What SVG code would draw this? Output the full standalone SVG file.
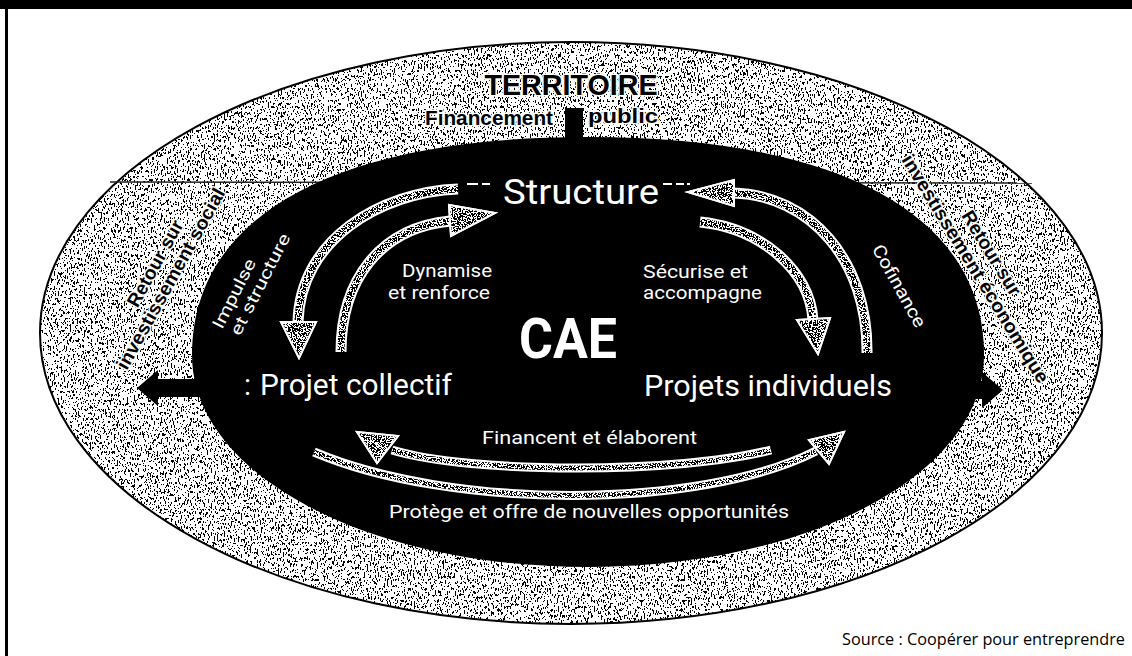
<svg xmlns="http://www.w3.org/2000/svg" width="1132" height="656" viewBox="0 0 1132 656">
<defs>
  <filter id="stip" filterUnits="userSpaceOnUse" x="0" y="0" width="1132" height="656" color-interpolation-filters="sRGB">
    <feTurbulence type="fractalNoise" baseFrequency="0.7 0.33" numOctaves="2" seed="7" result="n"/>
    <feColorMatrix in="n" type="matrix" values="0 0 0 0 0  0 0 0 0 0  0 0 0 0 0  1 0 0 0 0" result="r"/>
    <feComponentTransfer in="r" result="t"><feFuncA type="discrete" tableValues="0 0 0 0 0 0 0 0 0 0 0 0 1 1 1 1 1 1 1 1"/></feComponentTransfer>
    <feComposite in="SourceGraphic" in2="t" operator="in"/>
  </filter>
  <filter id="stip2" filterUnits="userSpaceOnUse" x="0" y="0" width="1132" height="656" color-interpolation-filters="sRGB">
    <feTurbulence type="fractalNoise" baseFrequency="0.8 0.8" numOctaves="2" seed="3" result="n"/>
    <feColorMatrix in="n" type="matrix" values="0 0 0 0 0  0 0 0 0 0  0 0 0 0 0  1 0 0 0 0" result="r"/>
    <feComponentTransfer in="r" result="t"><feFuncA type="discrete" tableValues="0 0 0 0 0 0 0 0 0 0 1 1 1 1 1 1 1 1 1 1"/></feComponentTransfer>
    <feComposite in="SourceGraphic" in2="t" operator="in"/>
  </filter>
  <style>
    .wt{fill:#fff;font-family:Roboto,"Liberation Sans",sans-serif}
    .bt{fill:#000;font-family:"Liberation Sans",Arial,sans-serif;font-weight:bold;stroke:#fff;stroke-width:3;paint-order:stroke;stroke-linejoin:round}
    .sw{fill:none;stroke:#fff;stroke-width:11}
    .sp{fill:none;stroke:#000;stroke-width:7}
    .sw2{fill:none;stroke:#fff;stroke-width:9}
    .sp2{fill:none;stroke:#000;stroke-width:5}
    .hw{fill:#fff;stroke:#fff;stroke-width:2}
    .hs{fill:#000;stroke:none}
    .ho{fill:none;stroke:#fff;stroke-width:2;stroke-linejoin:miter}
  </style>
  <path id="a1" d="M458,189 C380,192 300,240 298,322"/>
  <polygon id="h1" points="281,322 316,322 299,358"/>
  <path id="a2" d="M341,352 C341,280 380,228 450,221"/>
  <polygon id="h2" points="449,205 451,236 495,213"/>
  <path id="a3" d="M700,222 C760,228 810,270 813,320"/>
  <polygon id="h3" points="797,320 830,318 818,354"/>
  <path id="a4" d="M867,353 C868,260 810,195 733,193"/>
  <polygon id="h4" points="734,180 734,206 688,192"/>
  <path id="a5" d="M771,450 C680,474 470,474 392,450"/>
  <polygon id="h5" points="357,432 398,436 377,463"/>
  <path id="a6" d="M314,452 C450,510 700,510 816,451"/>
  <polygon id="h6" points="809,440 829,464 844,432"/>
</defs>

<rect x="0" y="0" width="1132" height="656" fill="#fff"/>
<rect x="0" y="0" width="1132" height="9" fill="#000"/>
<rect x="5" y="0" width="3" height="656" fill="#000"/>

<g id="territoire">
  <ellipse cx="571" cy="333" rx="531" ry="291" fill="#fff"/>
  <ellipse cx="571" cy="333" rx="531" ry="291" fill="#000" filter="url(#stip)"/>
  <ellipse cx="571" cy="333" rx="531" ry="291" fill="none" stroke="#000" stroke-width="2"/>
  <line x1="110" y1="182" x2="1032" y2="183" stroke="#222" stroke-width="1.5"/>
  <text class="bt" x="571" y="95" font-size="30" text-anchor="middle" textLength="173" lengthAdjust="spacingAndGlyphs">TERRITOIRE</text>
  <text class="bt" x="425" y="125" font-size="21" textLength="128" lengthAdjust="spacingAndGlyphs">Financement</text>
  <text class="bt" x="588" y="123" font-size="21" textLength="70" lengthAdjust="spacingAndGlyphs">public</text>
  <g transform="translate(171,279) rotate(-61)">
    <text class="bt" x="6" y="-15" font-size="19" text-anchor="middle" textLength="96" lengthAdjust="spacingAndGlyphs">Retour sur</text>
    <text class="bt" x="0" y="6" font-size="19" text-anchor="middle" textLength="204" lengthAdjust="spacingAndGlyphs">investissement social</text>
  </g>
  <g transform="translate(975,269) rotate(58.5)">
    <text class="bt" x="-5" y="-16" font-size="19" text-anchor="middle" textLength="96" lengthAdjust="spacingAndGlyphs">Retour sur</text>
    <text class="bt" x="0" y="6" font-size="19" text-anchor="middle" textLength="264" lengthAdjust="spacingAndGlyphs">investissement économique</text>
  </g>
</g>

<g id="cae">
  <rect x="565" y="108" width="18" height="36" fill="#000"/>
  <path d="M192,355 C192,215.5 334.6,137 588,137 C841.4,137 984,215.5 984,355 C984,473.7 809.8,567 588,567 C366.2,567 192,473.7 192,355 Z" fill="#000"/>
  <polygon points="137,388 158,370 158,379 205,379 205,397 158,397 158,406" fill="#000"/>
  <polygon points="1003,390 982,372 982,381 960,381 960,399 982,399 982,408" fill="#000"/>
  <text class="wt" x="568" y="358" font-size="56" font-weight="bold" text-anchor="middle" textLength="98" lengthAdjust="spacingAndGlyphs">CAE</text>
</g>

<g id="structure">
  <text class="wt" x="503" y="204" font-size="35" textLength="156" lengthAdjust="spacingAndGlyphs">Structure</text>
  <path d="M467,184 H478 M482,184 H490 M663,184 H672 M676,184 H684 M687,184 H690" stroke="#fff" stroke-width="2"/>
</g>

<g id="projet-collectif">
  <text class="wt" x="244" y="395" font-size="29">:</text>
  <text class="wt" x="260" y="395" font-size="29" textLength="192" lengthAdjust="spacingAndGlyphs">Projet collectif</text>
</g>

<g id="projets-individuels">
  <text class="wt" x="644" y="396" font-size="29" textLength="248" lengthAdjust="spacingAndGlyphs">Projets individuels</text>
</g>

<g id="connectors">
  <g id="c-impulse">
    <use href="#a1" class="sw"/><use href="#a1" class="sp" filter="url(#stip2)"/>
    <use href="#h1" class="hw"/><use href="#h1" class="hs" filter="url(#stip2)"/><use href="#h1" class="ho"/>
    <g transform="translate(222,330) rotate(-63)">
      <text class="wt" x="0" y="0" font-size="17" textLength="76" lengthAdjust="spacingAndGlyphs">Impulse</text>
      <text class="wt" x="2" y="19" font-size="17" textLength="112" lengthAdjust="spacingAndGlyphs">et structure</text>
    </g>
  </g>
  <g id="c-dynamise">
    <use href="#a2" class="sw"/><use href="#a2" class="sp" filter="url(#stip2)"/>
    <use href="#h2" class="hw"/><use href="#h2" class="hs" filter="url(#stip2)"/><use href="#h2" class="ho"/>
    <text class="wt" x="492" y="277" font-size="18" text-anchor="end" textLength="90" lengthAdjust="spacingAndGlyphs">Dynamise</text>
    <text class="wt" x="490" y="299" font-size="18" text-anchor="end" textLength="102" lengthAdjust="spacingAndGlyphs">et renforce</text>
  </g>
  <g id="c-securise">
    <use href="#a3" class="sw"/><use href="#a3" class="sp" filter="url(#stip2)"/>
    <use href="#h3" class="hw"/><use href="#h3" class="hs" filter="url(#stip2)"/><use href="#h3" class="ho"/>
    <text class="wt" x="643" y="278" font-size="18" textLength="105" lengthAdjust="spacingAndGlyphs">Sécurise et</text>
    <text class="wt" x="643" y="299" font-size="18" textLength="119" lengthAdjust="spacingAndGlyphs">accompagne</text>
  </g>
  <g id="c-cofinance">
    <use href="#a4" class="sw"/><use href="#a4" class="sp" filter="url(#stip2)"/>
    <use href="#h4" class="hw"/><use href="#h4" class="hs" filter="url(#stip2)"/><use href="#h4" class="ho"/>
    <g transform="translate(899,286) rotate(61)">
      <text class="wt" x="0" y="6" font-size="18" text-anchor="middle" textLength="92" lengthAdjust="spacingAndGlyphs">Cofinance</text>
    </g>
  </g>
  <g id="c-financent">
    <use href="#a5" class="sw2"/><use href="#a5" class="sp2" filter="url(#stip2)"/>
    <use href="#h5" class="hw"/><use href="#h5" class="hs" filter="url(#stip2)"/><use href="#h5" class="ho"/>
    <text class="wt" x="482" y="444" font-size="18" textLength="215" lengthAdjust="spacingAndGlyphs">Financent et élaborent</text>
  </g>
  <g id="c-protege">
    <use href="#a6" class="sw2"/><use href="#a6" class="sp2" filter="url(#stip2)"/>
    <use href="#h6" class="hw"/><use href="#h6" class="hs" filter="url(#stip2)"/><use href="#h6" class="ho"/>
    <text class="wt" x="389" y="518" font-size="18" textLength="400" lengthAdjust="spacingAndGlyphs">Protège et offre de nouvelles opportunités</text>
  </g>
</g>

<text x="842" y="645" font-size="16" font-family="'Open Sans','Liberation Sans',sans-serif" fill="#000" textLength="283" lengthAdjust="spacingAndGlyphs">Source : Coopérer pour entreprendre</text>
</svg>
